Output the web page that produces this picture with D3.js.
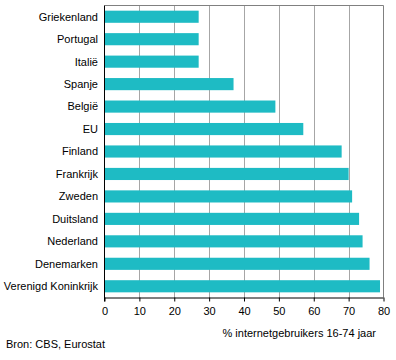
<!DOCTYPE html>
<html><head><meta charset="utf-8">
<script src="https://cdn.jsdelivr.net/npm/d3@7/dist/d3.min.js"></script>
<style>
body{margin:0;background:#fff;}
text{font-family:"Liberation Sans",Arial,sans-serif;font-size:11px;fill:#000;}
</style></head><body>
<svg id="c" width="396" height="360"></svg>
<script>
const categories = ["Griekenland","Portugal","Italië","Spanje","België","EU","Finland","Frankrijk","Zweden","Duitsland","Nederland","Denemarken","Verenigd Koninkrijk"];
const values = [27,27,27,37,49,57,68,70,71,73,74,76,79];
const xTicks = [0,10,20,30,40,50,60,70,80];
const axisTitle = "% internetgebruikers 16-74 jaar";
const source = "Bron: CBS, Eurostat";

const svg = d3.select("#c");
const m = {left:104.5, right:383.5, top:5.5, bottom:297.5};
const x = d3.scaleLinear().domain([0,80]).range([m.left, m.right]);
const y = d3.scaleBand().domain(categories).range([m.top, m.bottom]).paddingInner(0.46).paddingOuter(0.23);

// grid
svg.append("g").selectAll("line").data(xTicks.slice(1,-1)).join("line")
  .attr("x1",d=>Math.round(x(d))+0.5).attr("x2",d=>Math.round(x(d))+0.5)
  .attr("y1",m.top).attr("y2",m.bottom).attr("stroke","#a6a6a6").attr("stroke-width",1);
// frame top/right
svg.append("path").attr("d",`M${m.left},${m.top}H${m.right}V${m.bottom}`)
  .attr("fill","none").attr("stroke","#808080").attr("stroke-width",1);

// bars
svg.append("g").selectAll("rect").data(values).join("rect")
  .attr("x",m.left).attr("y",(d,i)=>y(categories[i]))
  .attr("width",d=>x(d)-m.left).attr("height",y.bandwidth())
  .attr("fill","#1ebbc4");

// category labels
svg.append("g").selectAll("text").data(categories).join("text")
  .attr("x",98).attr("y",d=>y(d)+y.bandwidth()/2).attr("dy","0.35em")
  .attr("text-anchor","end").text(d=>d);

// axes
const xAxis = d3.axisBottom(x).tickValues(xTicks).tickSize(4).tickPadding(6);
const gx = svg.append("g").attr("transform",`translate(0,${m.bottom})`).call(xAxis);
gx.select(".domain").attr("stroke","#000").attr("d",`M${m.left},0.5H${m.right}`);
gx.selectAll(".tick line").attr("stroke","#000");
gx.selectAll("text").style("font-family","'Liberation Sans',Arial,sans-serif").style("font-size","11px").attr("fill","#000");
svg.append("line").attr("x1",m.left).attr("x2",m.left).attr("y1",m.top).attr("y2",m.bottom+4).attr("stroke","#000");

svg.append("text").attr("x",376).attr("y",333).attr("dy","0.35em").attr("text-anchor","end").text(axisTitle);
svg.append("text").attr("x",6).attr("y",344).attr("dy","0.35em").text(source);
</script>
</body></html>
